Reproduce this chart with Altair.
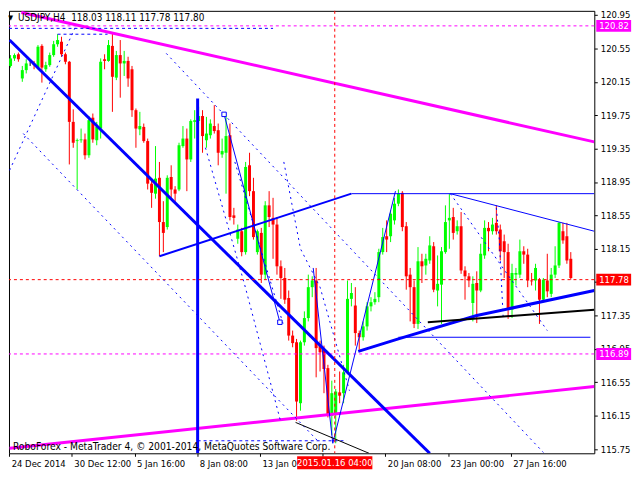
import altair as alt
import pandas as pd

# ---------------- data ----------------
opens = [120.34,120.43,120.48,120.19,120.29,120.37,120.37,120.32,120.58,120.30,
         120.35,120.47,120.60,120.63,120.48,120.39,119.67,119.44,119.45,119.46,
         119.27,119.72,119.45,119.59,120.42,120.40,120.58,120.20,120.47,120.37,
         120.40,120.30,119.81,119.58,119.61,119.44,118.93,118.81,119.00,118.47,
         118.41,119.01,118.86,118.86,119.38,119.47,119.22,119.67,119.68,119.74,
         119.45,119.51,119.62,119.57,119.28,119.30,119.51,118.55,118.27,118.36,
         118.11,119.15,118.84,118.11,118.34,117.84,118.67,118.52,118.44,117.94,
         117.80,117.56,117.11,117.03,116.30,117.03,117.32,117.69,117.77,116.99,
         116.94,116.72,116.15,116.16,116.43,116.42,116.67,117.55,117.47,117.14,
         117.09,117.22,117.46,117.51,117.57,118.11,118.30,118.30,118.49,118.69,
         118.82,118.42,117.84,117.69,117.25,118.00,117.95,118.01,118.18,117.65,
         117.72,118.11,118.49,118.53,118.36,118.42,117.89,117.82,117.50,117.74,
         117.65,118.07,118.40,118.36,118.46,118.38,118.24,118.11,117.42,117.84,
         117.84,118.12,118.08,117.77,117.77,117.78,117.54,117.77,117.61,117.84,
         117.95,118.36,118.30,118.03]
highs = [120.47,120.49,120.50,120.34,120.42,120.42,120.40,120.59,120.60,120.39,
         120.50,120.64,120.72,120.69,120.50,120.40,119.82,119.47,119.59,119.53,
         119.74,119.77,119.67,120.43,120.48,120.65,120.73,120.52,120.65,120.52,
         120.45,120.34,119.83,119.79,119.65,119.47,118.98,119.38,119.19,118.72,
         119.03,119.15,118.90,119.42,119.62,119.59,119.70,119.81,119.85,119.81,
         119.73,119.70,119.87,119.65,119.47,119.74,119.65,118.64,118.44,118.40,
         119.19,119.30,119.00,118.38,118.40,118.72,118.84,118.76,118.53,118.01,
         117.92,117.65,117.17,117.07,117.05,117.40,117.84,117.82,117.92,117.05,
         116.99,116.76,116.57,116.47,116.68,116.76,117.77,117.74,117.69,117.17,
         117.28,117.51,117.57,117.63,118.15,118.40,118.49,118.61,118.76,118.86,
         118.84,118.47,117.92,117.77,118.17,118.09,118.09,118.30,118.23,118.07,
         118.17,118.67,118.81,118.64,118.49,118.59,117.94,117.86,117.82,117.88,
         118.21,118.49,118.47,118.52,118.67,118.44,118.32,118.21,117.97,117.92,
         118.26,118.18,118.15,117.86,117.97,117.80,117.80,118.09,117.92,118.18,
         118.47,118.46,118.46,118.11]
lows = [120.32,120.40,120.39,120.15,120.25,120.34,120.30,120.30,120.14,120.27,
        120.33,120.45,120.57,120.45,120.36,119.16,119.36,118.86,119.42,119.22,
        119.24,119.42,119.39,119.47,120.30,120.39,119.79,120.17,119.96,120.22,
        120.09,119.73,119.36,119.51,119.42,118.86,118.64,118.75,118.06,118.11,
        118.38,118.75,118.69,118.84,119.36,118.84,119.19,119.47,119.65,119.30,
        119.36,119.47,119.53,119.15,119.24,118.81,118.49,118.44,118.21,118.06,
        118.08,118.78,118.26,118.08,117.74,117.78,118.41,118.03,117.84,117.55,
        117.49,117.05,116.97,116.09,116.21,116.99,117.28,117.57,116.61,116.68,
        116.42,116.13,115.92,115.82,116.30,116.30,116.65,117.46,116.99,116.94,
        117.05,117.17,117.40,117.48,117.51,118.08,118.11,118.23,118.44,118.66,
        118.36,117.66,117.28,117.20,117.19,117.74,117.84,117.97,117.63,117.46,
        117.25,118.09,118.15,118.26,118.32,117.85,117.54,117.69,117.28,117.26,
        117.63,118.03,118.12,118.32,118.32,118.01,117.80,117.31,117.32,117.71,
        117.80,117.97,117.69,117.71,117.65,117.25,117.51,117.57,117.57,117.80,
        117.92,118.21,117.97,117.78]
closes = [120.43,120.47,120.42,120.29,120.37,120.37,120.35,120.57,120.32,120.35,
          120.47,120.60,120.65,120.48,120.39,119.67,119.42,119.45,119.46,119.27,
          119.69,119.46,119.61,120.39,120.40,120.59,120.21,120.47,120.37,120.40,
          120.19,119.81,119.59,119.62,119.44,118.93,118.82,118.99,118.47,118.34,
          119.00,118.86,118.81,119.39,119.47,119.22,119.68,119.69,119.74,119.50,
          119.53,119.65,119.56,119.30,119.32,119.50,118.53,118.52,118.38,118.11,
          119.13,118.84,118.29,118.36,117.84,118.67,118.53,118.44,117.94,117.80,
          117.54,117.11,117.02,116.32,117.03,117.32,117.69,117.77,116.96,116.91,
          116.71,116.16,116.42,116.44,116.39,116.67,117.55,117.62,117.14,117.09,
          117.22,117.46,117.51,117.55,118.11,118.29,118.26,118.57,118.69,118.81,
          118.41,117.82,117.69,117.25,118.00,117.94,118.03,118.19,117.66,117.73,
          118.12,118.47,118.52,118.34,118.42,117.89,117.82,117.77,117.73,117.65,
          118.09,118.40,118.36,118.44,118.36,118.12,118.11,117.42,117.86,117.86,
          118.12,118.08,117.77,117.76,117.92,117.54,117.78,117.64,117.84,117.95,
          118.46,118.25,118.01,117.80]

x_tick_values = [-0.35, 15.65, 31.65, 47.65, 63.65, 79.65, 95.65, 111.65, 127.65]
# the label under the red time box is hidden in the picture
x_tick_labels = ["24 Dec 2014", "30 Dec 12:00", "5 Jan 16:00", "8 Jan 08:00",
                 "13 Jan 00:00", "", "20 Jan 08:00", "23 Jan 00:00",
                 "27 Jan 16:00"]
y_tick_values = [115.75, 116.15, 116.55, 116.95, 117.35, 117.75, 118.15,
                 118.55, 118.95, 119.35, 119.75, 120.15, 120.55, 120.95]
y_hidden_label = 117.75   # covered by the 117.78 price box

# drawn objects (bar index, price)
magenta_thick = [[(2.75, 120.98), (149, 119.43)],
                 [(-0.25, 115.76), (149, 116.50)]]
magenta_levels = [116.89, 120.82]
blue_thick3 = [[(-0.25, 120.65), (107, 115.70)],
               [(47.75, 119.95), (47.75, 115.70)],
               [(88.75, 116.92), (99, 117.07), (119, 117.35), (149, 117.65)]]
blue_thick2 = [[(38, 118.06), (87, 118.81)]]
blue_thin = [[(87, 118.81), (149, 118.81)],
             [(99, 117.09), (148, 117.09)],
             [(112.25, 118.81), (149, 118.36)],
             [(54.5, 119.76), (68.75, 117.27)],
             [(77.25, 117.92), (82.25, 115.82), (98.25, 118.84)]]
blue_dash_h = [[(-0.4, 120.79), (67, 120.79)],
               [(12, 120.72), (24.75, 120.72)],
               [(47.75, 115.85), (85.75, 115.85)]]
blue_dot = [[(-0.25, 119.09), (16.5, 120.80)],
            [(3.25, 119.53), (79, 115.82)],
            [(39.75, 120.49), (136, 115.71)],
            [(112.25, 118.81), (137, 117.17)],
            [(124, 118.64), (124.75, 118.26), (125.75, 117.32)],
            [(49.75, 119.36), (59.75, 117.72), (69, 116.07)],
            [(57.25, 119.19), (69.75, 117.22)],
            [(69.75, 119.19), (74, 118.15), (79, 117.69), (86.5, 116.45)]]
black_thick = [[(106.5, 117.27), (149, 117.42)]]
black_thin = [[(72.75, 116.07), (91.5, 115.70)]]
squares = [(54.5, 119.76), (68.75, 117.27)]
cross_price = 117.78
cross_bar = 82.75

title_text = "USDJPY,H4\u00a0 118.03 118.11 117.78 117.80"
footer_text = "RoboForex - MetaTrader 4, \u00a9 2001-2014, MetaQuotes Software Corp."
time_box_text = "2015.01.16 04:00"
magenta_box_prices = [120.82, 116.89]
red_box_prices = [117.78]

# ---------------- chart ----------------
W, H = 590, 446
FONT = "DejaVu Sans Condensed, DejaVu Sans"
FS = 9.5
xs = alt.Scale(domain=[-0.4, 149.0], nice=False, zero=False)
ys = alt.Scale(domain=[115.70, 121.0], nice=False, zero=False)

label_js = "[" + ",".join("'%s'" % s for s in x_tick_labels) + "]"
x_axis = alt.Axis(values=x_tick_values,
                  labelExpr=label_js + "[round((datum.value + 0.35) / 16)]",
                  labelAlign="left", labelOffset=2, labelPadding=2, tickSize=3,
                  domain=False, grid=False, labelOverlap=False, labelBound=False,
                  labelFont=FONT, labelFontSize=FS, labelColor="black",
                  tickColor="black", labelBaseline="top", title=None)
y_axis = alt.Axis(orient="right", values=y_tick_values, tickSize=3,
                  labelExpr="abs(datum.value - %s) < 0.001 ? '' : format(datum.value, '.2f')" % y_hidden_label,
                  labelPadding=3, domain=False, grid=False, labelOverlap=False,
                  labelFont=FONT, labelFontSize=FS, labelColor="black",
                  tickColor="black", labelAlign="left", labelBaseline="middle",
                  title=None)


def X(field):
    return alt.X(field, scale=xs, axis=x_axis, title=None)


def Y(field):
    return alt.Y(field, scale=ys, axis=y_axis, title=None)


candles = pd.DataFrame({"i": list(range(len(opens))), "o": opens, "h": highs,
                        "l": lows, "c": closes})
col_expr = "datum.c > datum.o ? '#00FF00' : (datum.c < datum.o ? '#FF0000' : '#000000')"

base = alt.Chart(candles).transform_calculate(col=col_expr)
wicks = base.mark_rule(strokeWidth=1).encode(
    x=X("i:Q"), y=Y("l:Q"), y2="h:Q", color=alt.Color("col:N", scale=None))
bodies = base.mark_rule(strokeWidth=3, strokeCap="butt").encode(
    x=X("i:Q"), y=Y("o:Q"), y2="c:Q", color=alt.Color("col:N", scale=None))


def lines_layer(lines, color, width, dash=None):
    rows = []
    for k, pts in enumerate(lines):
        for j, (i, p) in enumerate(pts):
            rows.append({"k": k, "j": j, "i": i, "p": p})
    mk = dict(color=color, strokeWidth=width, clip=True)
    if dash:
        mk["strokeDash"] = dash
    return alt.Chart(pd.DataFrame(rows)).mark_line(**mk).encode(
        x=X("i:Q"), y=Y("p:Q"), detail="k:N", order="j:Q")


mag_levels = alt.Chart(pd.DataFrame({"p": magenta_levels})).mark_rule(
    color="#FF00FF", strokeWidth=1, strokeDash=[3, 3]).encode(y=Y("p:Q"))
cross_h = alt.Chart(pd.DataFrame({"p": [cross_price]})).mark_rule(
    color="#FF0000", strokeWidth=1, strokeDash=[3, 3]).encode(y=Y("p:Q"))
cross_v = alt.Chart(pd.DataFrame({"i": [cross_bar]})).mark_rule(
    color="#FF0000", strokeWidth=1, strokeDash=[3, 3]).encode(x=X("i:Q"))

sq = alt.Chart(pd.DataFrame({"i": [s[0] for s in squares], "p": [s[1] for s in squares]})).mark_point(
    shape="square", size=20, filled=True, fill="white", stroke="#0000FF", strokeWidth=1, opacity=1).encode(
    x=X("i:Q"), y=Y("p:Q"))


def text_layer(i, p, txt, color="black", size=10, align="left"):
    return alt.Chart(pd.DataFrame({"i": [i], "p": [p], "t": [txt]})).mark_text(
        align=align, baseline="middle", font=FONT, fontSize=size, color=color).encode(
        x=X("i:Q"), y=Y("p:Q"), text="t:N")


title = text_layer(1.9, 120.915, title_text, size=10)
tri = text_layer(0.0, 120.92, "\u25bc", size=7, align="center")
footer = text_layer(0.6, 115.78, footer_text, size=10.3)


def price_boxes(prices, color):
    d = pd.DataFrame({"p": prices, "a": [149.5] * len(prices), "b": [158.4] * len(prices),
                      "t": ["%.2f" % v for v in prices]})
    box = alt.Chart(d).mark_rule(color=color, strokeWidth=12, strokeCap="butt").encode(
        x=X("a:Q"), x2="b:Q", y=Y("p:Q"))
    txt = alt.Chart(d).mark_text(align="left", baseline="middle", font=FONT, fontSize=FS,
                                 color="white", dx=3).encode(
        x=X("a:Q"), y=Y("p:Q"), text="t:N")
    return box + txt


tb = pd.DataFrame({"a": [cross_bar - 9.6], "b": [cross_bar + 9.6], "m": [cross_bar],
                   "p": [115.587], "t": [time_box_text]})
time_box = alt.Chart(tb).mark_rule(color="#FF0000", strokeWidth=13, strokeCap="butt").encode(
    x=X("a:Q"), x2="b:Q", y=Y("p:Q"))
time_txt = alt.Chart(tb).mark_text(align="center", baseline="middle", font=FONT, fontSize=FS,
                                   color="white").encode(
    x=X("m:Q"), y=Y("p:Q"), text="t:N")

chart = alt.layer(
    wicks, bodies,
    mag_levels,
    lines_layer(magenta_thick, "#FF00FF", 3),
    lines_layer(blue_dash_h, "#0000FF", 1, [3, 3]),
    lines_layer(blue_dot, "#0000FF", 1, [2, 4]),
    lines_layer(blue_thin, "#0000FF", 1),
    lines_layer(blue_thick2, "#0000FF", 2),
    lines_layer(blue_thick3, "#0000FF", 3),
    lines_layer(black_thick, "#000000", 2),
    lines_layer(black_thin, "#000000", 1),
    cross_h, cross_v, sq,
    title, tri, footer,
    price_boxes(magenta_box_prices, "#FF00FF"),
    price_boxes(red_box_prices, "#FF0000"),
    time_box, time_txt,
).properties(
    width=W, height=H,
    autosize=alt.AutoSizeParams(type="none"),
    padding={"left": 1, "top": 1, "right": 38, "bottom": 18},
    background="white",
).configure_view(stroke="black", strokeWidth=1)

chart.save("out.html", embed_options={"renderer": "svg", "actions": False})
